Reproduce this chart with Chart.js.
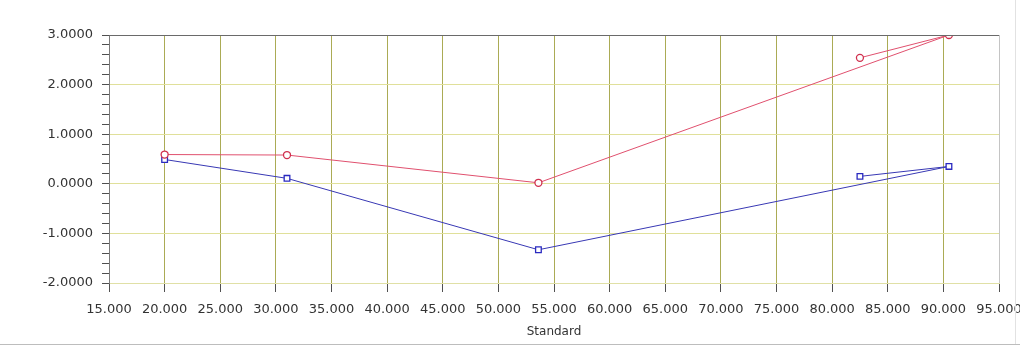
<!DOCTYPE html>
<html>
<head>
<meta charset="utf-8">
<script src="https://cdn.jsdelivr.net/npm/chart.js@4/dist/chart.umd.min.js"></script>
<style>
  html, body { margin: 0; padding: 0; background: #ffffff; }
  #wrap { width: 1020px; height: 346px; }
</style>
</head>
<body>
<div id="wrap"><canvas id="c" width="1020" height="346"></canvas></div>
<script>
// Standard concentrations (x) in measured order, and the two response series
const standards   = [20.0, 31.0, 53.6, 90.5, 82.5];
const upperSeries = [0.59, 0.58, 0.02, 3.00, 2.54];
const lowerSeries = [0.49, 0.11, -1.33, 0.35, 0.15];

// Axis tick values
const xTickValues = [15, 20, 25, 30, 35, 40, 45, 50, 55, 60, 65, 70, 75, 80, 85, 90, 95];
const yTickValues = [-2, -1, 0, 1, 2, 3];
const yMinorPerMajor = 5;

const isMajorY = v => Math.abs(v - Math.round(v)) < 1e-6;

// Frame lines: top and right edges of the plot plus the outer panel edge
const framePlugin = {
  id: 'frame',
  afterDraw(chart) {
    const { ctx, chartArea: a } = chart;
    ctx.save();
    ctx.lineWidth = 1;
    ctx.strokeStyle = '#6a6a6a';
    ctx.beginPath();
    ctx.moveTo(a.left, a.top + 0.5);
    ctx.lineTo(a.right, a.top + 0.5);
    ctx.stroke();
    ctx.strokeStyle = '#c4c4c4';
    ctx.beginPath();
    ctx.moveTo(a.right + 0.5, a.top);
    ctx.lineTo(a.right + 0.5, a.bottom);
    ctx.stroke();
    ctx.strokeStyle = '#bdbdbd';
    ctx.beginPath();
    ctx.moveTo(0, 344.5);
    ctx.lineTo(chart.width, 344.5);
    ctx.stroke();
    ctx.strokeStyle = '#e2e2e2';
    ctx.beginPath();
    ctx.moveTo(1015.5, 0);
    ctx.lineTo(1015.5, 344);
    ctx.stroke();
    ctx.restore();
  }
};

const toPoints = ys => standards.map((x, i) => ({ x, y: ys[i] }));

new Chart(document.getElementById('c'), {
  type: 'line',
  data: {
    datasets: [
      {
        label: 'Series 1',
        data: toPoints(upperSeries),
        borderColor: '#e0506e',
        borderWidth: 1,
        pointStyle: 'circle',
        pointRadius: 3.5,
        pointBorderColor: '#d0304e',
        pointBackgroundColor: '#ffffff',
        pointBorderWidth: 1.3,
        tension: 0
      },
      {
        label: 'Series 2',
        data: toPoints(lowerSeries),
        borderColor: '#3838b4',
        borderWidth: 1,
        pointStyle: 'rect',
        pointRadius: 4,
        pointBorderColor: '#2a2ac0',
        pointBackgroundColor: '#ffffff',
        pointBorderWidth: 1.3,
        tension: 0
      }
    ]
  },
  options: {
    responsive: false,
    animation: false,
    devicePixelRatio: 1,
    layout: { padding: { top: 35, right: 21, left: 0, bottom: 0 } },
    plugins: {
      legend: { display: false },
      tooltip: { enabled: false }
    },
    scales: {
      x: {
        type: 'linear',
        min: 15,
        max: 95,
        afterBuildTicks: s => { s.ticks = xTickValues.map(v => ({ value: v })); },
        afterFit: s => { s.height = 63; s.paddingLeft = 0; s.paddingRight = 0; },
        grid: {
          color: '#abab55',
          lineWidth: 1,
          tickColor: '#505050',
          tickLength: 9,
          drawTicks: true
        },
        border: { display: true, color: '#e0e0a6' },
        ticks: {
          autoSkip: false,
          maxRotation: 0,
          minRotation: 0,
          padding: 10,
          color: '#333333',
          font: { family: 'DejaVu Sans', size: 13 },
          callback: v => v.toFixed(3)
        },
        title: {
          display: true,
          text: 'Standard',
          color: '#333333',
          font: { family: 'DejaVu Sans', size: 12 },
          padding: { top: 0, bottom: 7 }
        }
      },
      y: {
        type: 'linear',
        min: -2,
        max: 3,
        afterBuildTicks: s => {
          const t = [];
          for (let i = 0; i < yTickValues.length; i++) {
            t.push({ value: yTickValues[i] });
            if (i < yTickValues.length - 1) {
              const step = (yTickValues[i + 1] - yTickValues[i]) / yMinorPerMajor;
              for (let k = 1; k < yMinorPerMajor; k++) t.push({ value: yTickValues[i] + k * step });
            }
          }
          s.ticks = t;
        },
        afterFit: s => { s.width = 109; },
        grid: {
          color: c => (c.tick && isMajorY(c.tick.value)) ? '#e0e09a' : 'rgba(0,0,0,0)',
          lineWidth: 1,
          tickColor: '#505050',
          tickLength: 7,
          drawTicks: true
        },
        border: { display: true, color: '#7a7a7a' },
        ticks: {
          autoSkip: false,
          padding: 9,
          color: '#333333',
          font: { family: 'DejaVu Sans', size: 13 },
          callback: v => isMajorY(v) ? v.toFixed(4) : ''
        }
      }
    }
  },
  plugins: [framePlugin]
});
</script>
</body>
</html>
